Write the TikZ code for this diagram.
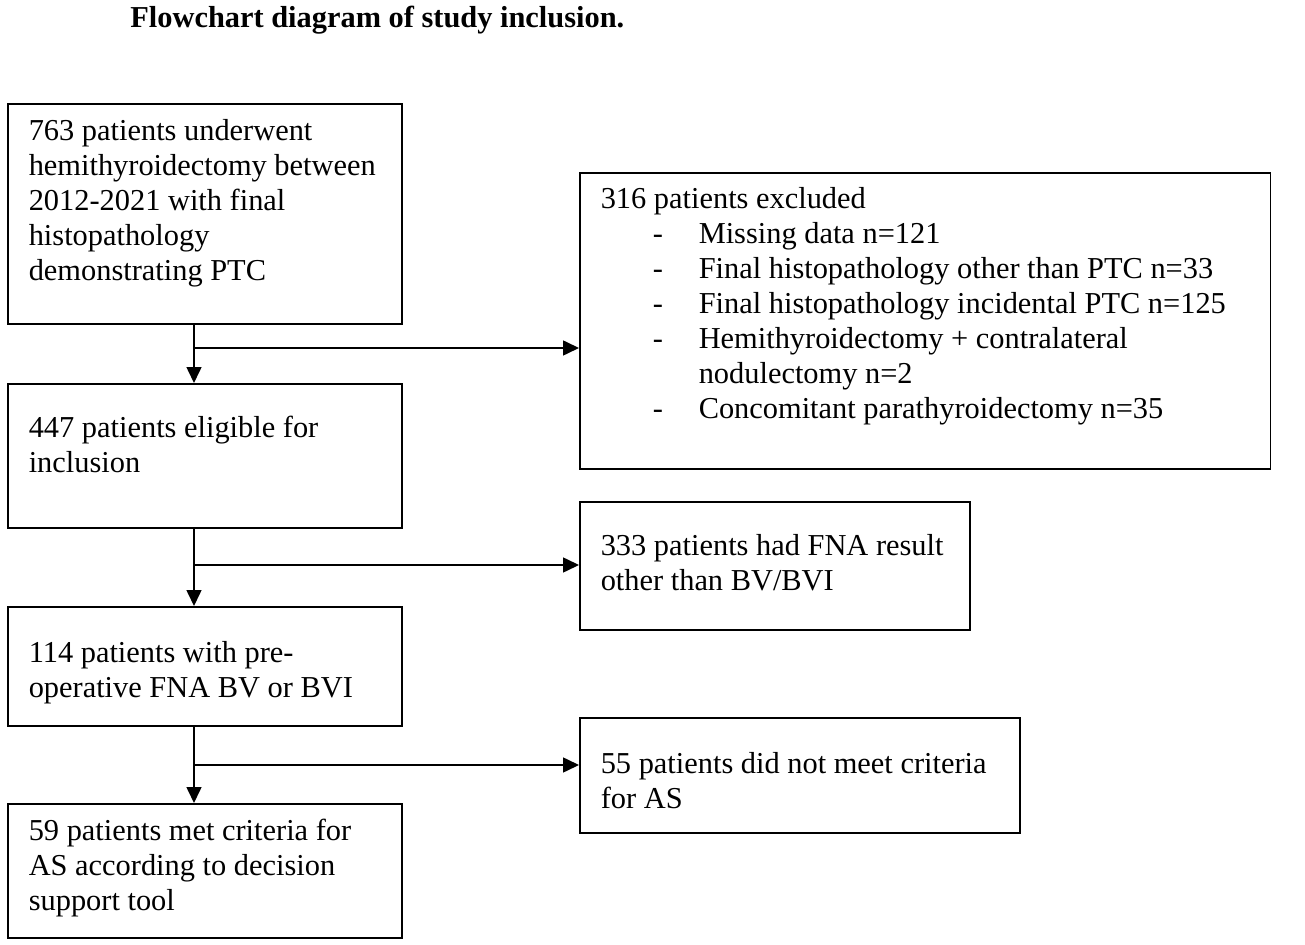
\documentclass[tikz,border=0pt]{standalone}
\usepackage{fontspec}
\setmainfont{Liberation Serif}
\usetikzlibrary{arrows.meta}

\newcommand{\boxtext}[4]{\parbox[t][#2][t]{#1}{\raggedright\rule{0pt}{#3}#4}}
\newcommand{\exitem}[1]{\hspace*{1.04cm}\makebox[0.92cm][l]{-}#1}
\tikzset{block/.style={draw, line width=0.9pt, anchor=north west, inner xsep=0.42cm, inner ysep=0pt}}
\tikzset{link/.style={line width=0.9pt, -{Triangle[length=0.32cm, width=0.3cm]}}}

\begin{document}
\begin{tikzpicture}[x=0.02cm, y=-0.02cm, font=\fontsize{17.3}{19.9}\selectfont]
	\useasboundingbox (0,0) rectangle (1305,945);
	\node [anchor=base west, inner sep=0pt] (title) at (130,28) {\textbf{Flowchart diagram of study inclusion.}};

	% left column
	\node [block] (start) at (7,103) {\boxtext{7.04cm}{4.40cm}{0.74cm}{763 patients underwent\\ hemithyroidectomy between\\ 2012-2021 with final\\ histopathology\\ demonstrating PTC}};
	\node [block] (eligible) at (7,383) {\boxtext{7.04cm}{2.88cm}{1.08cm}{447 patients eligible for\\ inclusion}};
	\node [block] (preop) at (7,606) {\boxtext{7.04cm}{2.38cm}{1.12cm}{114 patients with pre-\\ operative FNA BV or BVI}};
	\node [block] (metas) at (7,803) {\boxtext{7.04cm}{2.68cm}{0.74cm}{59 patients met criteria for\\ AS according to decision\\ support tool}};

	% right column
	\node [block] (excluded) at (579,172) {\boxtext{12.98cm}{5.92cm}{0.72cm}{316 patients excluded\\
		\exitem{Missing data n=121}\\
		\exitem{Final histopathology other than PTC n=33}\\
		\exitem{Final histopathology incidental PTC n=125}\\
		\exitem{Hemithyroidectomy + contralateral}\\
		\hspace*{1.96cm}nodulectomy n=2\\
		\exitem{Concomitant parathyroidectomy n=35}}};
	\node [block] (otherfna) at (579,501) {\boxtext{6.96cm}{2.56cm}{1.08cm}{333 patients had FNA result\\ other than BV/BVI}};
	\node [block] (notmet) at (579,717) {\boxtext{7.96cm}{2.30cm}{1.12cm}{55 patients did not meet criteria\\ for AS}};

	% connectors
	\coordinate (split1) at (194,348);
	\coordinate (split2) at (194,565);
	\coordinate (split3) at (194,765);
	\draw [link] (start.south -| split1) -- (eligible.north -| split1);
	\draw [link] (split1) -- (split1 -| excluded.west);
	\draw [link] (eligible.south -| split2) -- (preop.north -| split2);
	\draw [link] (split2) -- (split2 -| otherfna.west);
	\draw [link] (preop.south -| split3) -- (metas.north -| split3);
	\draw [link] (split3) -- (split3 -| notmet.west);
\end{tikzpicture}
\end{document}
